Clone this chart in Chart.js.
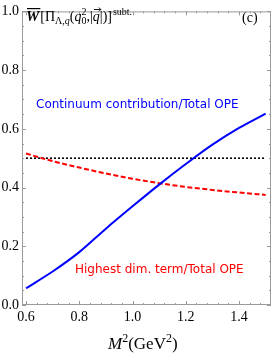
<!DOCTYPE html>
<html>
<head>
<meta charset="utf-8">
<script src="https://cdn.jsdelivr.net/npm/chart.js@4.4.0/dist/chart.umd.min.js"></script>
<style>
  html, body { margin: 0; padding: 0; background: #fff; }
  canvas { display: block; }
</style>
</head>
<body>
<canvas id="ratioChart" width="273" height="354"></canvas>
<script>
// Borel mass squared M^2 (GeV^2)
const m2 = [0.6, 0.7, 0.8, 0.9, 1.0, 1.1, 1.2, 1.3, 1.4, 1.5];
// continuum contribution / total OPE
const continuumRatio = [0.057, 0.114, 0.18, 0.26, 0.336, 0.41, 0.48, 0.546, 0.603, 0.652];
// highest dimension term / total OPE
const highestDimRatio = [0.516, 0.49, 0.468, 0.448, 0.43, 0.415, 0.402, 0.392, 0.383, 0.375];
// 50% reference line
const halfX = [0.6, 1.5];
const halfY = [0.5, 0.5];

const xTicks = [0.6, 0.8, 1.0, 1.2, 1.4];
const serif = "'Liberation Serif', 'Times New Roman', serif";
const sans = "'DejaVu Sans', Verdana, sans-serif";

const toPoints = (xs, ys) => xs.map((x, i) => ({ x: x, y: ys[i] }));

// frame with inward ticks on all four sides, plus the labels
const frameTicks = {
    id: 'frameTicks',
    beforeDatasetsDraw(chart) {
        const { ctx, chartArea: a, scales: { x, y } } = chart;
        ctx.save();
        ctx.strokeStyle = '#9a9a9a';
        ctx.lineWidth = 1;
        ctx.strokeRect(a.left + 0.5, a.top + 0.5, a.right - a.left - 1, a.bottom - a.top - 1);

        ctx.beginPath();
        for (let v = 0.6; v <= 1.5001; v += 0.04) {
            const px = Math.round(x.getPixelForValue(v)) + 0.5;
            const major = xTicks.some((t) => Math.abs(t - v) < 1e-6);
            const len = major ? 4 : 2;
            ctx.moveTo(px, a.bottom);
            ctx.lineTo(px, a.bottom - len);
            ctx.moveTo(px, a.top);
            ctx.lineTo(px, a.top + len);
        }
        for (let i = 0; i <= 20; i++) {
            const v = i * 0.05;
            const py = Math.round(y.getPixelForValue(v)) + 0.5;
            const len = i % 4 === 0 ? 4 : 2;
            ctx.moveTo(a.left, py);
            ctx.lineTo(a.left + len, py);
            ctx.moveTo(a.right, py);
            ctx.lineTo(a.right - len, py);
        }
        ctx.stroke();
        ctx.restore();
    },
    afterDraw(chart) {
        const { ctx } = chart;
        ctx.save();
        ctx.fillStyle = '#000';
        ctx.textBaseline = 'alphabetic';
        ctx.textAlign = 'left';

        // panel title  W[Pi_{Lambda,q}(q0^2,|q|)]^subt.
        let cx = 26;
        const by = 21;
        ctx.font = `bold italic 15px ${serif}`;
        ctx.fillText('W', cx, by);
        const wW = ctx.measureText('W').width;
        ctx.fillRect(cx + 1, by - 13, wW, 1.2);
        cx += wW + 1;
        ctx.font = `14px ${serif}`;
        ctx.fillText('[Π', cx, by);
        cx += ctx.measureText('[Π').width;
        ctx.font = `10px ${serif}`;
        ctx.fillText('Λ,', cx, by + 3);
        cx += ctx.measureText('Λ,').width;
        ctx.font = `italic 10px ${serif}`;
        ctx.fillText('q', cx, by + 3);
        cx += ctx.measureText('q').width;
        ctx.font = `14px ${serif}`;
        ctx.fillText('(', cx, by);
        cx += ctx.measureText('(').width;
        ctx.font = `italic 14px ${serif}`;
        ctx.fillText('q', cx, by);
        cx += ctx.measureText('q').width;
        ctx.font = `10px ${serif}`;
        ctx.fillText('2', cx, by - 6);
        ctx.fillText('0', cx, by + 3);
        cx += ctx.measureText('2').width;
        ctx.font = `14px ${serif}`;
        ctx.fillText(',|', cx, by);
        cx += ctx.measureText(',|').width;
        ctx.font = `italic 14px ${serif}`;
        ctx.fillText('q', cx, by);
        const qw = ctx.measureText('q').width;
        // vector arrow over q
        ctx.beginPath();
        ctx.lineWidth = 0.9;
        ctx.strokeStyle = '#000';
        ctx.moveTo(cx + 1, by - 11.5);
        ctx.lineTo(cx + qw + 1, by - 11.5);
        ctx.moveTo(cx + qw - 1, by - 13.5);
        ctx.lineTo(cx + qw + 1, by - 11.5);
        ctx.lineTo(cx + qw - 1, by - 9.5);
        ctx.stroke();
        cx += qw;
        ctx.font = `14px ${serif}`;
        ctx.fillText('|)]', cx, by);
        cx += ctx.measureText('|)]').width;
        ctx.font = `10px ${serif}`;
        ctx.fillText('subt.', cx + 1, by - 6);

        ctx.font = `14px ${serif}`;
        ctx.fillText('(c)', 242, 22);

        // curve labels
        ctx.font = `12px ${sans}`;
        ctx.fillStyle = '#0000ff';
        ctx.fillText('Continuum contribution/Total OPE', 36, 108);
        ctx.fillStyle = '#ff0000';
        ctx.fillText('Highest dim. term/Total OPE', 75, 273);

        // x axis title  M^2(GeV^2)
        ctx.fillStyle = '#000';
        let tx = 108;
        const ty = 349;
        ctx.font = `italic 17px ${serif}`;
        ctx.fillText('M', tx, ty);
        tx += ctx.measureText('M').width;
        ctx.font = `12px ${serif}`;
        ctx.fillText('2', tx, ty - 7);
        tx += ctx.measureText('2').width;
        ctx.font = `17px ${serif}`;
        ctx.fillText('(GeV', tx, ty);
        tx += ctx.measureText('(GeV').width;
        ctx.font = `12px ${serif}`;
        ctx.fillText('2', tx, ty - 7);
        tx += ctx.measureText('2').width;
        ctx.font = `17px ${serif}`;
        ctx.fillText(')', tx, ty);
        ctx.restore();
    },
};

var ctx = document.getElementById('ratioChart').getContext('2d');
// eslint-disable-next-line no-undef
new Chart(ctx, {
    type: 'line',
    data: {
        datasets: [
            {
                label: 'Continuum contribution/Total OPE',
                data: toPoints(m2, continuumRatio),
                borderColor: '#0000ff',
                borderWidth: 2,
                pointRadius: 0,
                cubicInterpolationMode: 'monotone',
            },
            {
                label: 'Highest dim. term/Total OPE',
                data: toPoints(m2, highestDimRatio),
                borderColor: '#ff0000',
                borderWidth: 2,
                borderDash: [5, 2.5],
                pointRadius: 0,
                cubicInterpolationMode: 'monotone',
            },
            {
                label: 'half',
                data: toPoints(halfX, halfY),
                borderColor: '#000000',
                borderWidth: 1.6,
                borderDash: [2, 2],
                pointRadius: 0,
            },
        ],
    },
    options: {
        responsive: false,
        animation: false,
        layout: { padding: { top: 5, right: 2, left: 0, bottom: 0 } },
        plugins: {
            legend: { display: false },
            tooltip: { enabled: false },
        },
        scales: {
            x: {
                type: 'linear',
                min: 0.585,
                max: 1.52,
                grid: { display: false, drawTicks: false },
                border: { display: false },
                afterBuildTicks: (scale) => {
                    scale.ticks = xTicks.map((v) => ({ value: v }));
                },
                afterFit: (scale) => {
                    scale.height = 49;
                },
                ticks: {
                    color: '#000',
                    padding: 4,
                    maxRotation: 0,
                    autoSkip: false,
                    font: { family: serif, size: 14 },
                    callback: (v) => v.toFixed(1),
                },
            },
            y: {
                min: 0,
                max: 1,
                grid: { display: false, drawTicks: false },
                border: { display: false },
                afterFit: (scale) => {
                    scale.width = 22;
                },
                ticks: {
                    stepSize: 0.2,
                    color: '#000',
                    padding: 3,
                    font: { family: serif, size: 14 },
                    callback: (v) => v.toFixed(1),
                },
            },
        },
    },
    plugins: [frameTicks],
});
</script>
</body>
</html>
